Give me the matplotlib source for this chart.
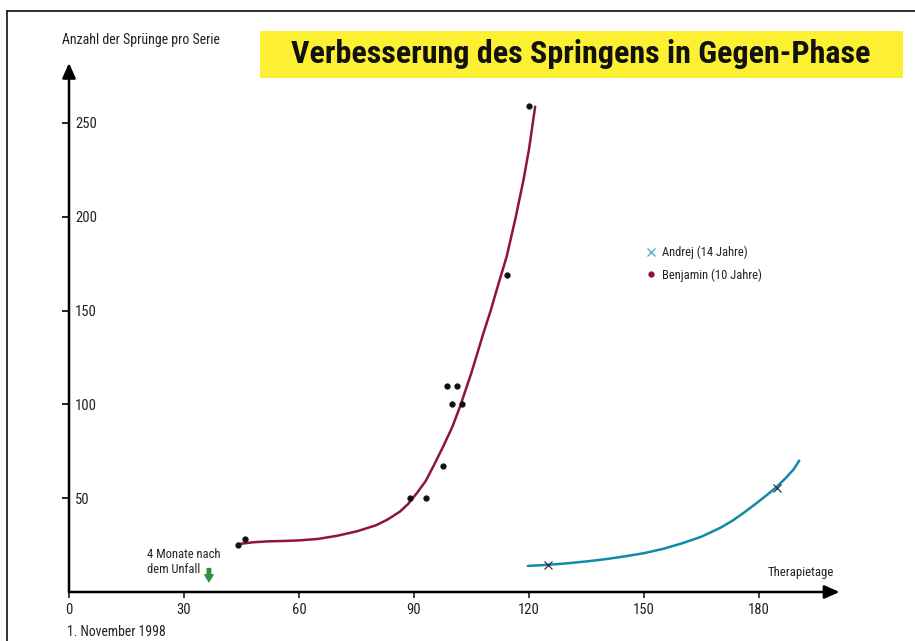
import matplotlib
matplotlib.use("Agg")
import matplotlib.pyplot as plt
from matplotlib.lines import Line2D
from matplotlib import font_manager

#### pick a narrow font if one is installed (the chart uses a condensed sans)
ents = font_manager.fontManager.ttflist
names = {f.name for f in ents}
family, stretch = None, 'normal'
for cand in ['Liberation Sans Narrow', 'Arial Narrow', 'Nimbus Sans Narrow',
             'Roboto Condensed', 'Ubuntu Condensed', 'Open Sans Condensed']:
    if cand in names:
        family = cand
        break
if family is None and any(f.name == 'DejaVu Sans' and f.stretch == 'condensed' for f in ents):
    family, stretch = 'DejaVu Sans', 'condensed'
if family is None:
    family = 'Roboto'
plt.rcParams['font.family'] = [family, 'DejaVu Sans']
plt.rcParams['font.stretch'] = stretch

#### data
x_ticks = [0, 30, 60, 90, 120, 150, 180]
y_ticks = [50, 100, 150, 200, 250]

# Benjamin (10 Jahre): measured points and the drawn trend curve
benj_day = [44, 46, 89, 93, 97.5, 98.5, 101.3, 99.9, 102.6, 114.3, 120.1]
benj_val = [25, 28, 50, 50, 67, 110, 110, 100, 100, 169, 259]
benj_curve_day = [44, 48, 52, 56, 60, 65, 70, 75, 80, 83, 86.3, 88.5, 90.7, 93, 95,
                  97.6, 100, 102, 105, 108.1, 110, 112, 114.2, 116.5, 118.5, 120, 121.6]
benj_curve_val = [25.5, 26.5, 27, 27.2, 27.5, 28.3, 30, 32.3, 35.5, 38.5, 42.8, 47, 52.6, 59, 66.8,
                  77.5, 88, 98.8, 117, 137.9, 150, 164, 179, 199.5, 219, 236, 258.7]

# Andrej (14 Jahre)
andr_day = [125, 184.6]
andr_val = [14.5, 55.5]
andr_curve_day = [119.7, 125, 130, 135, 140, 145, 150, 155, 160, 165, 170, 173.3,
                  176, 179, 182, 184.6, 187, 189, 190.5]
andr_curve_val = [13.9, 14.5, 15.3, 16.3, 17.5, 19, 20.7, 23, 26, 29.5, 34.3, 38.3,
                  42.2, 46.8, 51.6, 56, 60.8, 65.3, 70]

red = '#8c1538'
teal = '#108aa6'
txt = '#222222'

W, H = 915, 641
fig = plt.figure(figsize=(9.15, 6.41), dpi=100)

x0, y0 = 69, 592          # pixel position of the origin
px_x, px_y = 115 / 30, 93.8 / 50
xmax, ymax = 201, 282
ax = fig.add_axes([x0 / W, (H - y0) / H, xmax * px_x / W, ymax * px_y / H])
ax.set_xlim(0, xmax)
ax.set_ylim(0, ymax)
for s in ax.spines.values():
    s.set_visible(False)

# axes with arrow heads
for end in [(1.0, 0), (0, 1.0)]:
    ax.annotate('', xy=end, xytext=(0, 0), xycoords='axes fraction',
                arrowprops=dict(arrowstyle='-|>,head_length=0.9,head_width=0.4',
                                color='black', lw=1.8, shrinkA=0, shrinkB=0))

ax.set_xticks(x_ticks)
ax.set_xticklabels([str(t) for t in x_ticks])
ax.set_yticks(y_ticks)
ax.set_yticklabels([str(t) for t in y_ticks])
ax.tick_params(axis='x', direction='out', length=4, width=1.2, pad=4,
               labelsize=10.5, colors=txt)
ax.tick_params(axis='y', direction='out', length=5, width=1.4, pad=-9.3,
               labelsize=10.5, colors=txt)
for lab in ax.get_yticklabels():
    lab.set_horizontalalignment('left')

# curves and points
ax.plot(benj_curve_day, benj_curve_val, color=red, lw=1.8, solid_capstyle='round')
ax.plot(benj_day, benj_val, 'o', color='#111111', ms=3.5, zorder=3)
ax.plot(andr_curve_day, andr_curve_val, color=teal, lw=1.8, solid_capstyle='round')
ax.plot(andr_day, andr_val, 'x', color='#333333', ms=6, mew=0.9, zorder=3)

# legend
handles = [Line2D([], [], ls='none', marker='x', color='#5aaed0', ms=6, mew=1),
           Line2D([], [], ls='none', marker='o', color=red, ms=3.5)]
ax.legend(handles, ['Andrej (14 Jahre)', 'Benjamin (10 Jahre)'],
          loc='upper left', bbox_to_anchor=(0.751, 0.655),
          frameon=False, fontsize=9, handlelength=0.6, handletextpad=0.55,
          labelspacing=0.75, labelcolor=txt, borderpad=0, borderaxespad=0)

# annotation near the start
ax.text(20.3, 23.5, '4 Monate nach\ndem Unfall', fontsize=9, color=txt,
        va='top', ha='left', linespacing=1.25)
ax.annotate('', xy=(36.5, 5.5), xytext=(36.5, 12.5),
            arrowprops=dict(arrowstyle='simple,head_length=0.5,head_width=0.6,tail_width=0.25',
                            color='#2f8f3e', shrinkA=0, shrinkB=0))
ax.text(191, 10.5, 'Therapietage', fontsize=9.2, color=txt, ha='center', va='center')

# outside texts
fig.text(62 / W, 1 - 40 / H, 'Anzahl der Sprünge pro Serie', fontsize=10,
         color=txt, ha='left', va='center')
fig.text(67 / W, 1 - 632 / H, '1. November 1998', fontsize=9.8,
         color=txt, ha='left', va='center')

# title box
fig.patches.append(plt.Rectangle((260 / W, 1 - 78 / H), 643 / W, 47 / H,
                                 transform=fig.transFigure, facecolor='#fdf032',
                                 edgecolor='none'))
title = fig.text(581 / W, 1 - 54 / H, 'Verbesserung des Springens in Gegen-Phase',
                 fontsize=23, fontweight='bold', ha='center', va='center', color='#111111')
# fit the title to the width it has in the chart (about 587 px)
fig.canvas.draw()
tw = title.get_window_extent().width
if tw > 600:
    title.set_fontsize(23 * 587 / tw)

# frame lines (top and left)
fig.add_artist(Line2D([7 / W, 1], [1 - 11 / H, 1 - 11 / H], color=txt, lw=1.3))
fig.add_artist(Line2D([7 / W, 7 / W], [0, 1 - 11 / H], color=txt, lw=1.3))

fig.savefig('out.png', dpi=100)
